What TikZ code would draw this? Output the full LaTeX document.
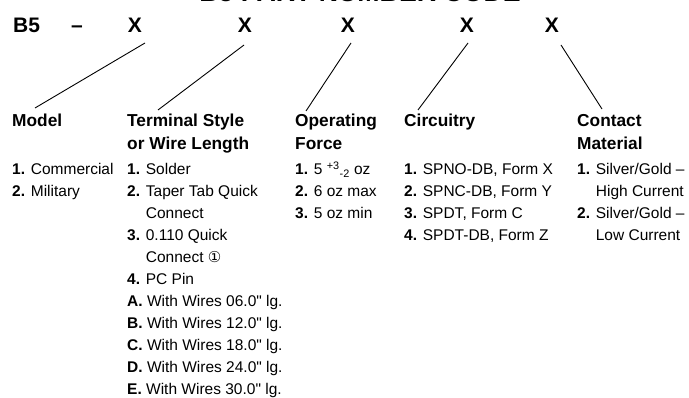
\documentclass[tikz,border=0pt]{standalone}
\usepackage{fontspec}
\setmainfont{Liberation Sans}[Ligatures=TeXOff]
\newfontfamily\symfont{DejaVu Sans}
\begin{document}
\begin{tikzpicture}[x=1pt,y=-1pt,
  toprow/.style={font=\fontsize{21}{21}\selectfont\bfseries, inner sep=0pt, anchor=base},
  head/.style={font=\fontsize{17.3}{23}\selectfont\bfseries, inner sep=0pt, anchor=base west},
  items/.style={font=\fontsize{15.5}{22}\selectfont, inner sep=0pt, anchor=base west},
  link/.style={line width=0.9pt}]
\useasboundingbox[fill=white] (0,0) rectangle (689,398);
\begin{scope}
\clip (0,0) rectangle (689,398);
\node[font=\fontsize{26.7}{27}\selectfont\bfseries, inner sep=0pt, anchor=base] (title) at (360,1.5) {B5 PART NUMBER CODE};
\end{scope}
% top row
\node[toprow, anchor=base west] (b5) at (13,33) {B5};
\node[toprow] (dash) at (77,33) {–};
\node[toprow] (x1) at (135,33) {X};
\node[toprow] (x2) at (245,33) {X};
\node[toprow] (x3) at (348,33) {X};
\node[toprow] (x4) at (467,33) {X};
\node[toprow] (x5) at (552,33) {X};
% headings
\node[head] (hmodel) at (12,127) {\begin{tabular}[t]{@{}l@{}}Model\end{tabular}};
\node[head] (hterm) at (127,127) {\begin{tabular}[t]{@{}l@{}}Terminal Style\\or Wire Length\end{tabular}};
\node[head] (hforce) at (295,127) {\begin{tabular}[t]{@{}l@{}}Operating\\Force\end{tabular}};
\node[head] (hcirc) at (404,127) {\begin{tabular}[t]{@{}l@{}}Circuitry\end{tabular}};
\node[head] (hcont) at (577,127) {\begin{tabular}[t]{@{}l@{}}Contact\\Material\end{tabular}};
% item lists
\node[items] (lmodel) at (12,175) {\begin{tabular}[t]{@{}l@{}}
\textbf{1.} Commercial\\
\textbf{2.} Military
\end{tabular}};
\node[items] (lterm) at (127,175) {\begin{tabular}[t]{@{}l@{}}
\textbf{1.} Solder\\
\textbf{2.} Taper Tab Quick\\
\hphantom{\textbf{2.} }Connect\\
\textbf{3.} 0.110 Quick\\
\hphantom{\textbf{3.} }Connect {\symfont\fontsize{15}{15}\selectfont ①}\\
\textbf{4.} PC Pin\\
\textbf{A.} With Wires 06.0" lg.\\
\textbf{B.} With Wires 12.0" lg.\\
\textbf{C.} With Wires 18.0" lg.\\
\textbf{D.} With Wires 24.0" lg.\\
\textbf{E.} With Wires 30.0" lg.
\end{tabular}};
\node[items] (lforce) at (295,175) {\begin{tabular}[t]{@{}l@{}}
\textbf{1.} 5 \textsuperscript{+3}\textsubscript{-2} oz\\
\textbf{2.} 6 oz max\\
\textbf{3.} 5 oz min
\end{tabular}};
\node[items] (lcirc) at (404,175) {\begin{tabular}[t]{@{}l@{}}
\textbf{1.} SPNO-DB, Form X\\
\textbf{2.} SPNC-DB, Form Y\\
\textbf{3.} SPDT, Form C\\
\textbf{4.} SPDT-DB, Form Z
\end{tabular}};
\node[items] (lcont) at (577,175) {\begin{tabular}[t]{@{}l@{}}
\textbf{1.} Silver/Gold –\\
\hphantom{\textbf{1.} }High Current\\
\textbf{2.} Silver/Gold –\\
\hphantom{\textbf{2.} }Low Current
\end{tabular}};
% connector end points
\coordinate (x1e) at (145,43);
\coordinate (x2e) at (244,45);
\coordinate (x3e) at (351,43);
\coordinate (x4e) at (468,43);
\coordinate (x5e) at (561,45);
\coordinate (h1e) at (35,108);
\coordinate (h2e) at (158,110);
\coordinate (h3e) at (306,111);
\coordinate (h4e) at (418,110);
\coordinate (h5e) at (602,109);
\draw[link] (x1e) -- (h1e);
\draw[link] (x2e) -- (h2e);
\draw[link] (x3e) -- (h3e);
\draw[link] (x4e) -- (h4e);
\draw[link] (x5e) -- (h5e);
\end{tikzpicture}
\end{document}
